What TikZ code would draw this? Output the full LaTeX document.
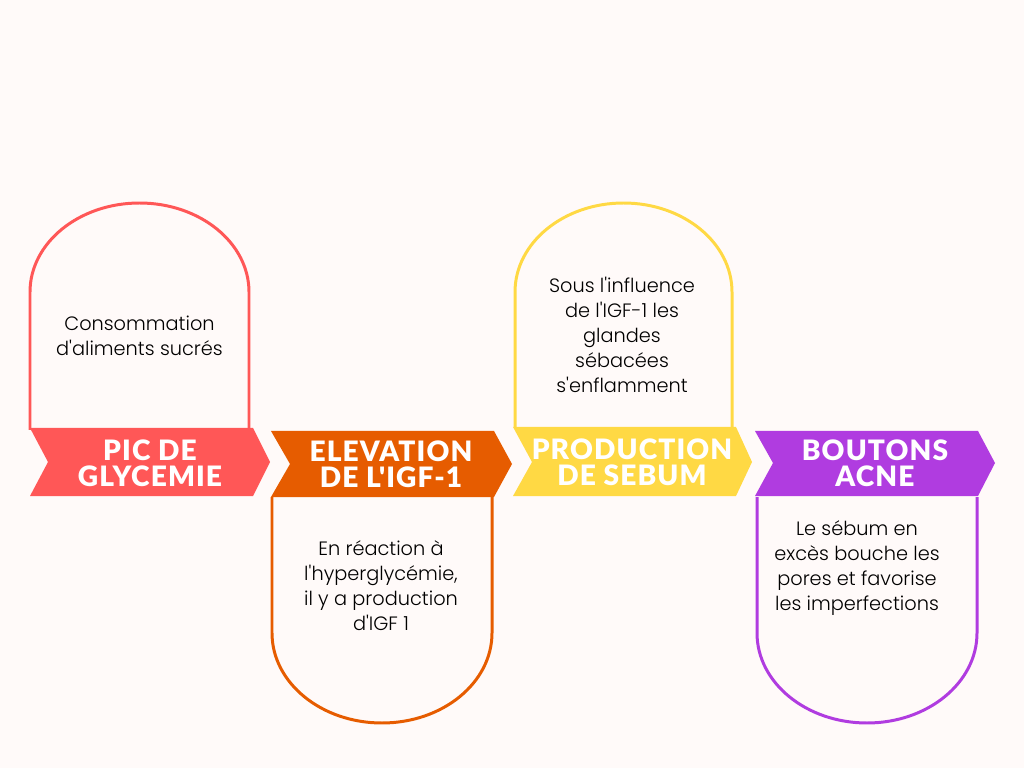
\documentclass[tikz,border=0pt]{standalone}
\usepackage{fontspec}
\setmainfont{Poppins Light}[Ligatures=TeXOff]
\newfontfamily\headfont[LetterSpace=4]{Lato Black}
\usetikzlibrary{positioning}
\definecolor{paper}{RGB}{255, 250, 249}
\definecolor{coral}{RGB}{255, 87, 87}
\definecolor{pumpkin}{RGB}{230, 92, 0}
\definecolor{sunny}{RGB}{255, 217, 68}
\definecolor{violet}{RGB}{176, 60, 224}

\begin{document}
\begin{tikzpicture}[x=0.02cm, y=0.02cm, font=\fontsize{11}{14.2}\selectfont]
  \tikzset{
    arch/.style={line width=1.7pt, fill=paper},
    heading/.style={text=white, align=center, font=\headfont\fontsize{16}{16}\selectfont},
    body/.style={align=center, text=black}
  }
  \fill[paper] (0,0) rectangle (1024,768);
  \useasboundingbox (0,0) rectangle (1024,768);

  \draw[coral, arch] (30,338) -- (30,476) arc[start angle=180, end angle=0, x radius=109.5, y radius=89] -- (249,338);
  \draw[sunny, arch] (515,341) -- (515,476) arc[start angle=180, end angle=0, x radius=108.5, y radius=89] -- (732,341);
  \draw[pumpkin, arch] (272,271) -- (272,135) arc[start angle=180, end angle=360, x radius=110, y radius=90] -- (492,271);
  \draw[violet, arch] (757,271) -- (757,135) arc[start angle=180, end angle=360, x radius=110, y radius=90] -- (977,271);

  \fill[coral] (30,340) -- (253,340) -- (270,306) -- (253,272) -- (30,272) -- (48,306) -- cycle;
  \fill[pumpkin] (271,337) -- (494,337) -- (512,304) -- (494,271) -- (271,271) -- (290,304) -- cycle;
  \fill[sunny] (513,341) -- (736,341) -- (752,306) -- (736,272) -- (513,272) -- (532,306) -- cycle;
  \fill[violet] (755,337) -- (978,337) -- (995,305) -- (978,272) -- (755,272) -- (773,305) -- cycle;

  \node[heading] (pic) at (150,305) {PIC DE\\[-1pt]GLYCEMIE};
  \node[heading] (igf) at (391,304) {ELEVATION\\[-1pt]DE L'IGF-1};
  \node[heading] (sebum) at (632,306) {PRODUCTION\\[-1pt]DE SEBUM};
  \node[heading] (acne) at (875,305) {BOUTONS\\[-1pt]ACNE};

  \node[body] (sucre) at (139.5,432) {Consommation\\d'aliments sucrés};
  \node[body] (reaction) at (381,182) {En réaction à\\l'hyperglycémie,\\il y a production\\d'IGF 1};
  \node[body] (glandes) at (622,433) {Sous l'influence\\de l'IGF-1 les\\glandes\\sébacées\\s'enflamment};
  \node[body] (pores) at (857,200) {Le sébum en\\excès bouche les\\pores et favorise\\les imperfections};
\end{tikzpicture}
\end{document}
